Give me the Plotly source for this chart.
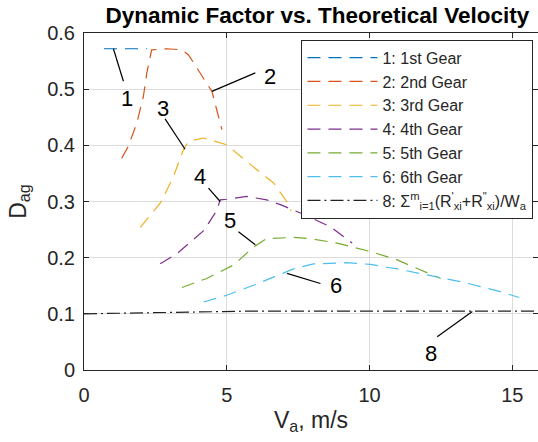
import plotly.graph_objects as go

FONT = "Arial, Liberation Sans, sans-serif"

gear1_x = [0.7, 1.2, 1.7, 2.2]
gear1_y = [0.572, 0.572, 0.572, 0.572]
gear2_x = [1.32, 1.55, 1.85, 2.08, 2.2, 2.37, 2.9, 3.43, 3.66, 4.07, 4.48, 4.83]
gear2_y = [0.377, 0.398, 0.44, 0.487, 0.529, 0.570, 0.572, 0.570, 0.561, 0.529, 0.496, 0.428]
gear3_x = [1.97, 2.67, 3.13, 3.48, 3.66, 4.19, 5.0, 5.7, 6.64, 7.1, 7.25]
gear3_y = [0.254, 0.297, 0.344, 0.392, 0.407, 0.413, 0.401, 0.371, 0.333, 0.300, 0.283]
gear4_x = [2.67, 3.25, 4.19, 4.65, 4.77, 5.0, 5.7, 6.4, 6.9, 7.6, 8.63, 9.39]
gear4_y = [0.189, 0.207, 0.248, 0.284, 0.303, 0.304, 0.309, 0.303, 0.294, 0.279, 0.255, 0.226]
gear5_x = [3.43, 4.3, 5.24, 5.94, 6.4, 7.34, 7.9, 8.86, 10.03, 10.97, 11.79, 12.49]
gear5_y = [0.147, 0.163, 0.187, 0.219, 0.234, 0.236, 0.234, 0.226, 0.211, 0.196, 0.178, 0.163]
gear6_x = [4.19, 5.0, 5.94, 6.88, 7.34, 8.04, 9.2, 10.03, 10.97, 12.14, 13.3, 14.48, 15.24]
gear6_y = [0.121, 0.133, 0.151, 0.170, 0.180, 0.189, 0.191, 0.188, 0.180, 0.168, 0.156, 0.141, 0.129]
res_x = [0, 2, 4, 6, 8, 10, 12, 14, 16]
res_y = [0.100, 0.102, 0.104, 0.105, 0.105, 0.105, 0.105, 0.105, 0.105]

series_names = ["1: 1st Gear", "2: 2nd Gear", "3: 3rd Gear", "4: 4th Gear", "5: 5th Gear", "6: 6th Gear"]
series_x = [gear1_x, gear2_x, gear3_x, gear4_x, gear5_x, gear6_x]
series_y = [gear1_y, gear2_y, gear3_y, gear4_y, gear5_y, gear6_y]
colors = ["#0072BD", "#D95319", "#EDB120", "#7E2F8E", "#77AC30", "#4DBEEE"]
res_name = "8: Σ<sup>m</sup><sub>i=1</sub>(R<sup>'</sup><sub>xi</sub>+R<sup>\"</sup><sub>xi</sub>)/W<sub>a</sub>"

# label callouts: text, text position, line start, line end (data units)
label_text = ["1", "2", "3", "4", "5", "6", "8"]
label_x = [1.50, 6.53, 2.78, 4.07, 5.12, 8.81, 12.14]
label_y = [0.484, 0.523, 0.466, 0.344, 0.267, 0.151, 0.030]
line_x0 = [1.03, 4.48, 3.54, 4.77, 5.41, 7.11, 12.37]
line_y0 = [0.572, 0.496, 0.393, 0.300, 0.246, 0.172, 0.059]
line_x1 = [1.38, 6.00, 2.84, 4.36, 6.00, 8.28, 13.60]
line_y1 = [0.514, 0.529, 0.447, 0.324, 0.223, 0.154, 0.104]

fig = go.Figure()
for name, xs, ys, c in zip(series_names, series_x, series_y, colors):
    fig.add_trace(go.Scatter(x=xs, y=ys, mode="lines", name=name,
                             line=dict(color=c, width=1.2, dash="13px,8px")))
fig.add_trace(go.Scatter(x=res_x, y=res_y, mode="lines", name=res_name,
                         line=dict(color="#222222", width=1.2, dash="13px,4px,2px,4px")))

for t, x, y in zip(label_text, label_x, label_y):
    fig.add_annotation(x=x, y=y, text=t, showarrow=False,
                       font=dict(family=FONT, size=22, color="#000000"))
for x0, y0, x1, y1 in zip(line_x0, line_y0, line_x1, line_y1):
    fig.add_shape(type="line", x0=x0, y0=y0, x1=x1, y1=y1,
                  line=dict(color="#000000", width=1.2))

fig.update_layout(
    width=538, height=442,
    margin=dict(l=84, r=0, t=33, b=72),
    plot_bgcolor="white", paper_bgcolor="white",
    font=dict(family=FONT, size=20, color="#262626"),
    title=dict(text="<b>Dynamic Factor vs. Theoretical Velocity</b>",
               x=0.59, xanchor="center", y=0.966, yanchor="middle",
               font=dict(family=FONT, size=22.5, color="#000000")),
    showlegend=True,
    legend=dict(x=0.99, xanchor="right", y=0.98, yanchor="top",
                bgcolor="white", bordercolor="#262626", borderwidth=1,
                font=dict(family=FONT, size=16, color="#262626"),
                itemwidth=70, tracegroupgap=0),
    xaxis=dict(range=[0, 15.9], tickvals=[0, 5, 10, 15], showgrid=True,
               gridcolor="#dcdcdc", gridwidth=1, zeroline=False,
               showline=True, linecolor="#262626", linewidth=1, mirror="ticks",
               ticks="inside", ticklen=5, tickcolor="#262626",
               tickfont=dict(size=20), ticklabelstandoff=7,
               title=dict(text="V<sub>a</sub>, m/s", font=dict(size=23), standoff=6)),
    yaxis=dict(range=[0, 0.6], tickvals=[0, 0.1, 0.2, 0.3, 0.4, 0.5, 0.6],
               ticktext=["0", "0.1", "0.2", "0.3", "0.4", "0.5", "0.6"],
               showgrid=True, gridcolor="#dcdcdc", gridwidth=1, zeroline=False,
               showline=True, linecolor="#262626", linewidth=1, mirror="ticks",
               ticks="inside", ticklen=5, tickcolor="#262626",
               tickfont=dict(size=20), ticklabelstandoff=4,
               title=dict(text="D<sub>ag</sub>", font=dict(size=23), standoff=14)),
)

fig.write_html("out.html")
